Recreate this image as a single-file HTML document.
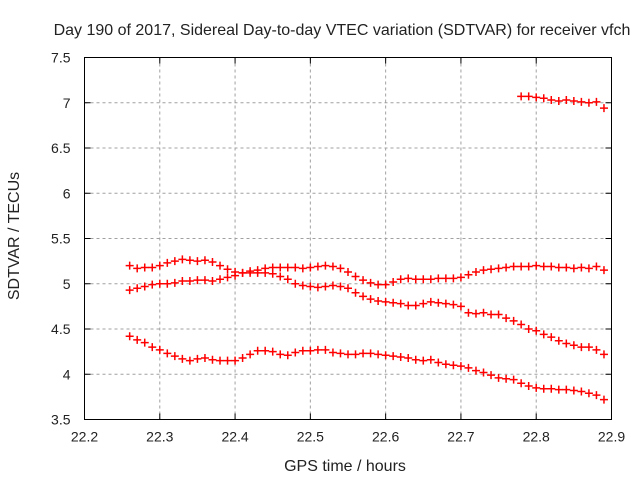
<!DOCTYPE html>
<html><head><meta charset="utf-8"><style>
body{margin:0;background:#fff;}
svg text{font-family:"Liberation Sans",sans-serif;font-size:14px;fill:#222;}
svg text.big{font-size:16px;}
</style></head><body>
<svg id="c" width="640" height="480" xmlns="http://www.w3.org/2000/svg">
<text class="big" x="342" y="35" text-anchor="middle">Day 190 of 2017, Sidereal Day-to-day VTEC variation (SDTVAR) for receiver vfch</text>
<text class="big" x="345" y="471" text-anchor="middle">GPS time / hours</text>
<text class="big" transform="translate(19,236) rotate(-90)" text-anchor="middle">SDTVAR / TECUs</text>
<g id="grid"></g>
<g id="axes"></g>
<g id="marks"></g>
<rect x="84.5" y="57.5" width="527" height="362" fill="none" stroke="#000" stroke-width="1"/>
</svg>
<script>
const xTicks=[22.2,22.3,22.4,22.5,22.6,22.7,22.8,22.9];
const xTickLabels=["22.2","22.3","22.4","22.5","22.6","22.7","22.8","22.9"];
const yTicks=[3.5,4,4.5,5,5.5,6,6.5,7,7.5];
const yTickLabels=["3.5","4","4.5","5","5.5","6","6.5","7","7.5"];
const tStart=22.26, tStep=0.01;
const series1=[5.2,5.17,5.18,5.18,5.2,5.23,5.25,5.27,5.26,5.25,5.26,5.24,5.2,5.16,5.13,5.12,5.12,5.12,5.12,5.11,5.08,5.05,5.0,4.98,4.97,4.96,4.97,4.98,4.97,4.95,4.9,4.86,4.83,4.81,4.8,4.79,4.78,4.76,4.76,4.78,4.8,4.79,4.78,4.77,4.75,4.68,4.67,4.68,4.66,4.66,4.62,4.59,4.55,4.5,4.48,4.44,4.41,4.37,4.34,4.32,4.3,4.3,4.27,4.22];
const series2=[4.93,4.95,4.97,4.99,5.0,5.0,5.01,5.03,5.03,5.04,5.04,5.03,5.05,5.07,5.09,5.12,5.14,5.15,5.17,5.18,5.18,5.18,5.18,5.17,5.18,5.19,5.2,5.19,5.17,5.13,5.08,5.04,5.01,4.99,4.99,5.02,5.05,5.06,5.05,5.05,5.05,5.06,5.06,5.06,5.07,5.1,5.13,5.15,5.16,5.17,5.18,5.19,5.19,5.19,5.2,5.19,5.19,5.18,5.18,5.17,5.18,5.17,5.19,5.15];
const series3=[4.42,4.38,4.35,4.3,4.27,4.23,4.2,4.17,4.15,4.17,4.18,4.16,4.15,4.15,4.15,4.18,4.22,4.26,4.26,4.25,4.22,4.21,4.24,4.26,4.26,4.27,4.27,4.24,4.23,4.22,4.22,4.23,4.23,4.22,4.21,4.2,4.19,4.18,4.16,4.15,4.16,4.13,4.11,4.1,4.09,4.07,4.04,4.02,3.99,3.96,3.95,3.94,3.9,3.87,3.85,3.84,3.84,3.83,3.83,3.82,3.81,3.79,3.77,3.72];
const s4Start=22.78;
const series4=[7.07,7.07,7.06,7.05,7.03,7.02,7.03,7.02,7.01,7.0,7.01,6.94];

const NS="http://www.w3.org/2000/svg";
const L=84.5,R=611.5,T=57.5,B=419.5;
const xs=v=>L+(v-22.2)/0.7*(R-L);
const ys=v=>B-(v-3.5)/4*(B-T);
function mk(tag,attrs,parent){const e=document.createElementNS(NS,tag);for(const k in attrs)e.setAttribute(k,attrs[k]);parent.appendChild(e);return e;}
const grid=document.getElementById('grid'),axes=document.getElementById('axes'),marks=document.getElementById('marks');
xTicks.forEach((v,i)=>{const x=xs(v);
 if(i>0&&i<xTicks.length-1){const g=mk('line',{x1:x,x2:x,y1:T,y2:B,stroke:'#a0a0a0','stroke-dasharray':'3,3'},grid);
 
 }
 mk('line',{x1:x,x2:x,y1:B,y2:B-6,stroke:'#000'},axes);mk('line',{x1:x,x2:x,y1:T,y2:T+6,stroke:'#000'},axes);
 const t=mk('text',{x:x,y:B+22,'text-anchor':'middle'},axes);t.textContent=xTickLabels[i];
 
 });
yTicks.forEach((v,i)=>{const y=ys(v);
 if(i>0&&i<yTicks.length-1){const g=mk('line',{x1:L,x2:R,y1:y,y2:y,stroke:'#a0a0a0','stroke-dasharray':'3,3'},grid);
 
 }
 mk('line',{x1:L,x2:L+6,y1:y,y2:y,stroke:'#000'},axes);mk('line',{x1:R,x2:R-6,y1:y,y2:y,stroke:'#000'},axes);
 const t=mk('text',{x:L-14,y:y+5,'text-anchor':'end'},axes);t.textContent=yTickLabels[i];
 
 });
function plot(arr,start,name){arr.forEach((v,i)=>{const x=xs(start+i*tStep),y=ys(v);
 const p=mk('path',{d:`M${x-4} ${y}H${x+4}M${x} ${y-4}V${y+4}`,stroke:'#f00','stroke-width':1.5,fill:'none'},marks);
 
 });}
plot(series1,tStart,'series1');plot(series2,tStart,'series2');plot(series3,tStart,'series3');plot(series4,s4Start,'series4');
</script>
</body></html>
